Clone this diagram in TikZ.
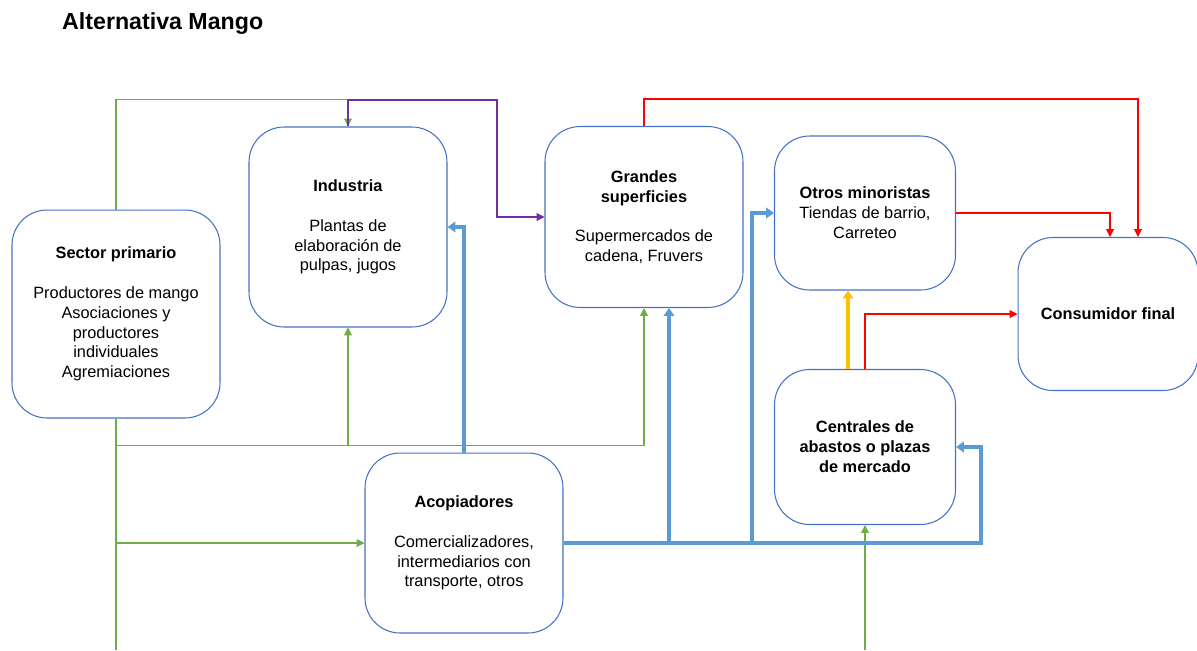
\documentclass[tikz,border=0pt]{standalone}
\usepackage{fontspec}
\setmainfont{Liberation Sans}
\usetikzlibrary{arrows.meta,positioning,calc}

\definecolor{verdeL}{RGB}{112,173,71}
\definecolor{azulL}{RGB}{91,155,213}
\definecolor{bordeC}{RGB}{68,114,196}
\definecolor{moradoL}{RGB}{112,48,160}
\definecolor{amarilloL}{RGB}{255,192,0}

\begin{document}
\begin{tikzpicture}[x=0.02cm, y=-0.02cm, font=\fontsize{9.3}{11.3}\selectfont,
  eslabon/.style={rectangle, draw=bordeC, line width=0.6pt, rounded corners=0.7cm, align=center, inner sep=2pt},
  verde/.style={draw=verdeL, line width=0.6pt, -{Triangle[length=4.5pt, width=4.5pt]}},
  morado/.style={draw=moradoL, line width=0.6pt, -{Triangle[length=4.5pt, width=4.5pt]}},
  rojo/.style={draw=red, line width=0.6pt, -{Triangle[length=4.5pt, width=4.5pt]}},
  azul/.style={draw=azulL, line width=2pt, -{Triangle[length=4.5pt, width=6pt]}},
  amarillo/.style={draw=amarilloL, line width=2pt, -{Triangle[length=4.5pt, width=6pt]}}
  ]
\useasboundingbox (0,0) rectangle (1197,650);

% Titulo
\node[font=\fontsize{13.2}{16}\selectfont\bfseries, anchor=west] (titulo) at (56, 24) {Alternativa Mango};

% Eslabones de la cadena
\node[eslabon, minimum width=4.16cm, minimum height=4.16cm] (sector) at (116, 314) {\textbf{Sector primario}\\[11.3pt]Productores de mango\\Asociaciones y\\productores\\individuales\\Agremiaciones};
\node[eslabon, minimum width=3.96cm, minimum height=4.0cm] (industria) at (348, 227) {\textbf{Industria}\\[11.3pt]Plantas de\\elaboración de\\pulpas, jugos};
\node[eslabon, minimum width=3.96cm, minimum height=3.62cm] (grandes) at (644, 217) {\textbf{Grandes}\\\textbf{superficies}\\[11.3pt]Supermercados de\\cadena, Fruvers};
\node[eslabon, minimum width=3.62cm, minimum height=3.08cm] (minoristas) at (865, 213) {\textbf{Otros minoristas}\\Tiendas de barrio,\\Carreteo};
\node[eslabon, minimum width=3.6cm, minimum height=3.06cm] (consumidor) at (1108, 314) {\textbf{Consumidor final}};
\node[eslabon, minimum width=3.62cm, minimum height=3.1cm] (centrales) at (865, 447) {\textbf{Centrales de}\\\textbf{abastos o plazas}\\\textbf{de mercado}};
\node[eslabon, minimum width=3.96cm, minimum height=3.6cm] (acopiadores) at (464, 543) {\textbf{Acopiadores}\\[11.3pt]Comercializadores,\\intermediarios con\\transporte, otros};

\coordinate (pieS) at (116, 650);
\coordinate (pieC) at (865, 650);
\coordinate (codoM) at (497, 100);

% Flujos del sector primario
\draw[verde] (sector.north) -- ++(0,-110) -| (industria.north);
\draw[verde, -] (sector.south) -- (pieS);
\draw[verde] (sector.south) -- ++(0,27) -| (industria.south);
\draw[verde] (sector.south) -- ++(0,27) -| (grandes.south);
\draw[verde] (sector.south |- acopiadores.west) -- (acopiadores.west);
\draw[verde] (pieC) -- (centrales.south);

% Industria a grandes superficies
\draw[morado] (industria.north) |- (codoM) |- (grandes.west);

% Flujos de acopiadores
\draw[azul] (acopiadores.north) |- (industria.east);
\draw[azul] (acopiadores.east) -| ([xshift=0.5cm]grandes.south);
\draw[azul] (acopiadores.east) -| ([xshift=-0.44cm]minoristas.west) -- (minoristas.west);
\draw[azul] (acopiadores.east) -| ([xshift=0.5cm]centrales.east) -- (centrales.east);

% Hacia minoristas y consumidor
\draw[amarillo] ([xshift=-0.34cm]centrales.north) -- ([xshift=-0.34cm]minoristas.south);
\draw[rojo] (centrales.north) |- (consumidor.west);
\draw[rojo] (minoristas.east) -| ([xshift=0.04cm]consumidor.north);
\draw[rojo] (grandes.north) -- ++(0,-27) -| ([xshift=0.6cm]consumidor.north);

\end{tikzpicture}
\end{document}
